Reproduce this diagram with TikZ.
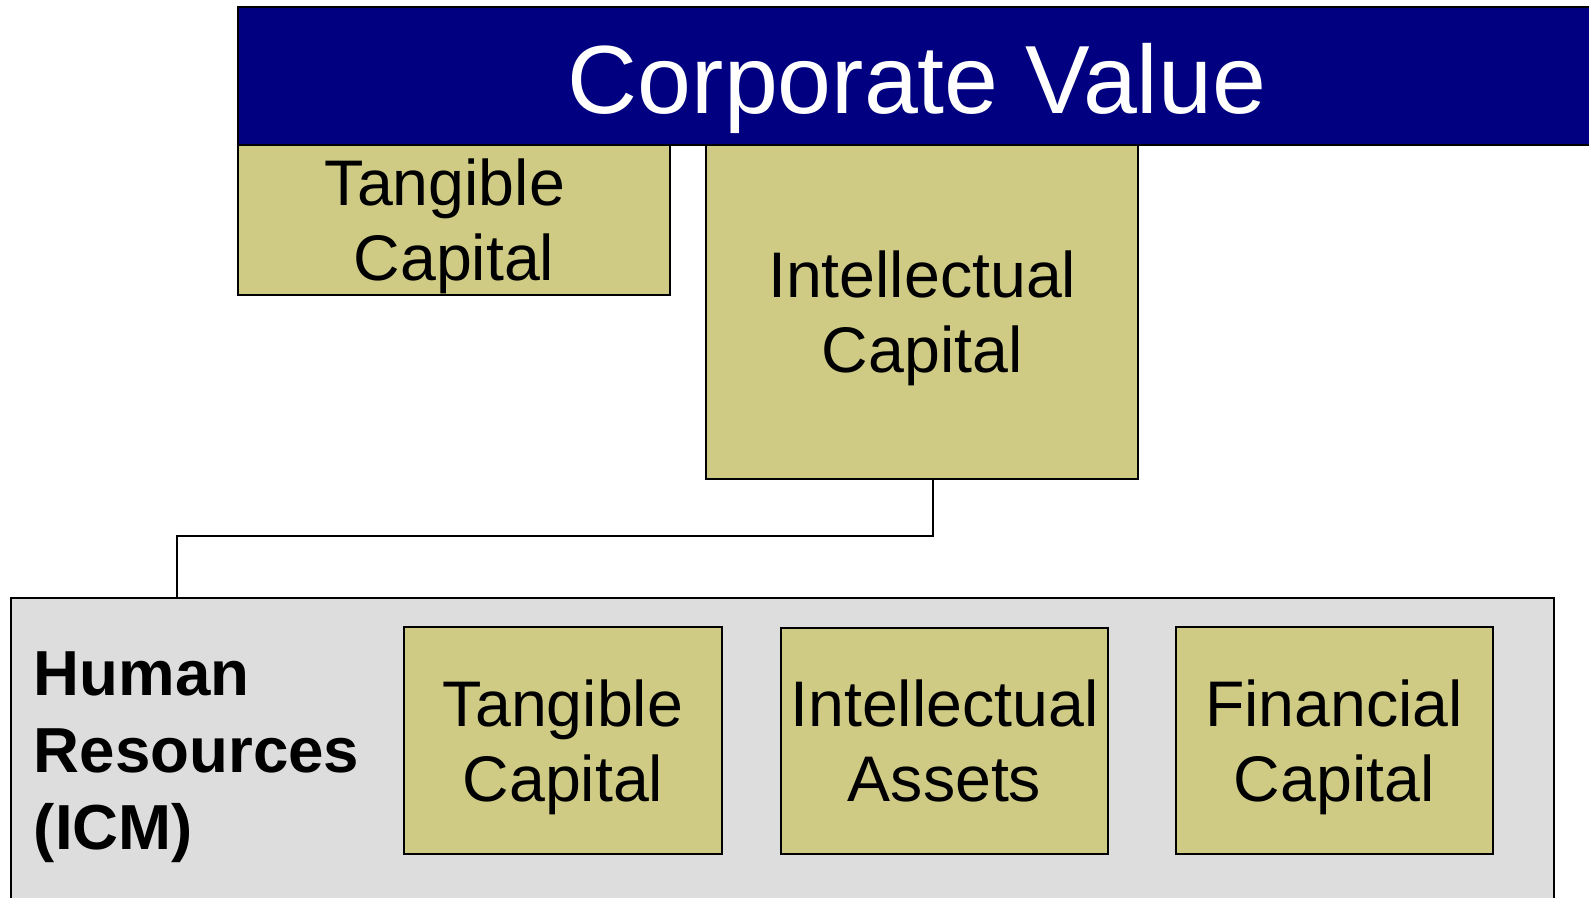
\documentclass[tikz,border=0pt]{standalone}
\usepackage{fontspec}
\setmainfont{Liberation Sans}
\definecolor{khaki}{HTML}{CFCB85}
\definecolor{navyb}{HTML}{000080}
\definecolor{panel}{HTML}{DDDDDD}
\tikzset{
  capbox/.style={draw=black, line width=1pt, fill=khaki, inner sep=0pt},
  captext/.style={align=center, inner sep=0pt, font=\fontsize{31.8}{37}\selectfont},
  conn/.style={draw=black, line width=1pt},
}
\begin{document}
\begin{tikzpicture}[x=0.5pt,y=-0.5pt]
\useasboundingbox (0,0) rectangle (1568,886);
% gray panel
\node[draw=black, line width=1pt, fill=panel, minimum width=761pt, minimum height=160pt, inner sep=0pt] (hrpanel) at (772,750) {};
% banner
\node[draw=black, line width=1pt, fill=navyb, minimum width=680pt, minimum height=68pt, inner sep=0pt] (banner) at (915,75) {};
\node[anchor=base, text=white, inner sep=0pt, font=\fontsize{47.8}{56}\selectfont] (bannertext) at (905,112) {Corporate Value};
% top boxes
\node[capbox, minimum width=213pt, minimum height=74pt] (tc) at (448,217) {};
\node[captext] (tctext) at ([yshift=-3pt]tc.center) {Tangible\hspace*{9pt}\\Capital};
\node[capbox, minimum width=213pt, minimum height=165pt] (ic) at (910,308) {};
\node[captext] (ictext) at ([yshift=-3pt]ic.center) {Intellectual\\Capital};
% inner boxes
\node[capbox, minimum width=156.5pt, minimum height=112pt] (tc2) at (555.5,731) {};
\node[captext] (tc2text) at ([yshift=-3pt]tc2.center) {Tangible\\Capital};
\node[capbox, minimum width=161pt, minimum height=111.5pt] (ia) at (932,731.5) {};
\node[captext] (iatext) at (ia.center) {Intellectual\\Assets};
\node[capbox, minimum width=156.5pt, minimum height=112pt] (fc) at (1316.5,731) {};
\node[captext] (fctext) at ([yshift=-3pt]fc.center) {Financial\\Capital};
% label
\node[anchor=west, align=left, inner sep=0pt, font=\fontsize{31.4}{38}\bfseries\selectfont] (hr) at (33,747) {Human\\Resources\\(ICM)};
% connector
\coordinate (bend) at (175,529);
\draw[conn] ([xshift=5.5pt]ic.south) |- (bend) -- (bend |- hrpanel.north);
\end{tikzpicture}
\end{document}
